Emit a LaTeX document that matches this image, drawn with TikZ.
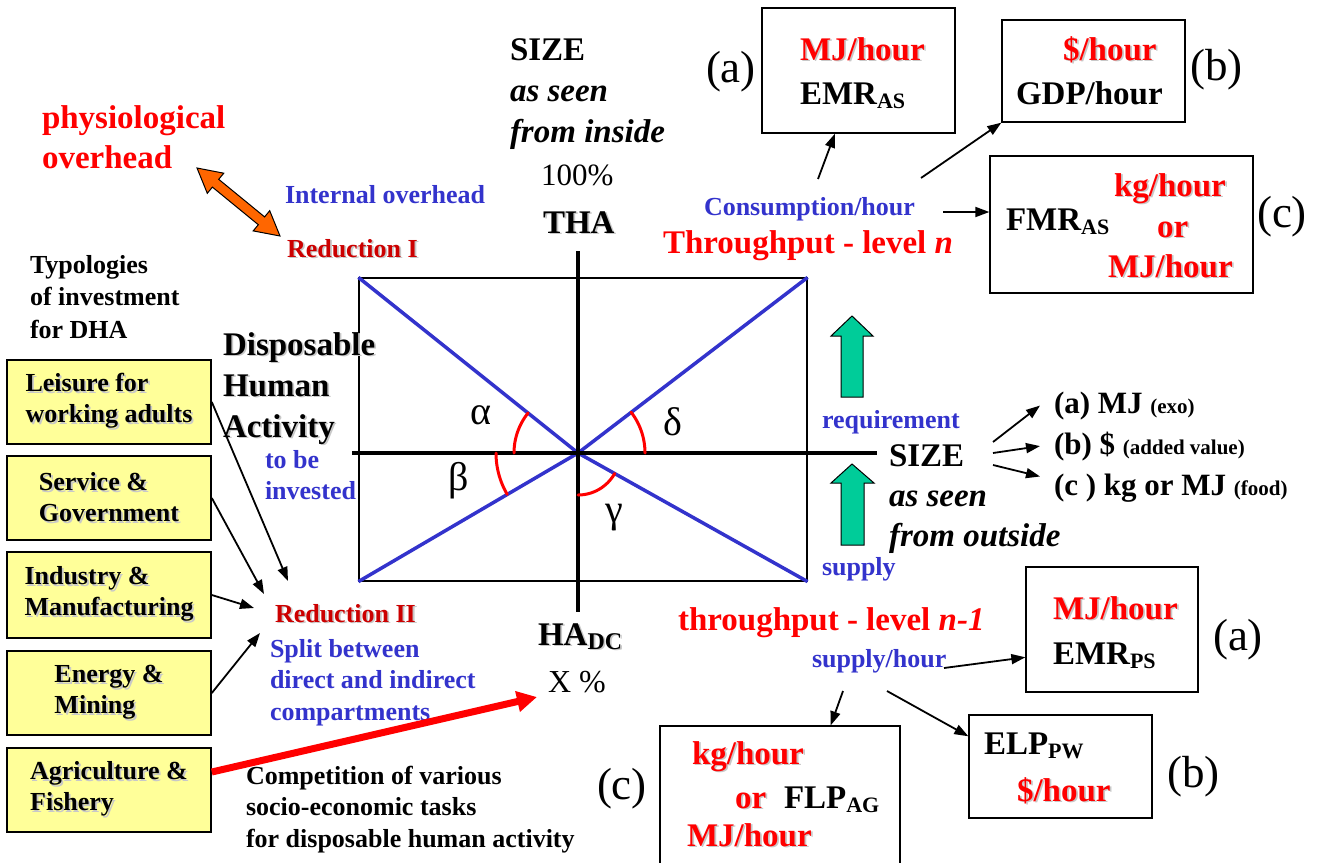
\documentclass[tikz,border=0pt]{standalone}
\usepackage{fontspec}
\setmainfont{Liberation Serif}
\usetikzlibrary{arrows.meta,calc}
\definecolor{tblue}{HTML}{3333CC}
\definecolor{tred}{HTML}{FF0000}
\definecolor{dred}{HTML}{CC0000}
\definecolor{byellow}{HTML}{FFFF99}
\definecolor{tgreen}{HTML}{00CC99}
\definecolor{torange}{HTML}{FF6600}
\definecolor{shadowgray}{HTML}{C8C8C8}
\newcommand{\myfs}[2]{\fontsize{#1}{#2}\selectfont}
\newcommand{\sbs}[2][22]{\raisebox{-4pt}{\myfs{#1}{#1}#2}}
\newcommand{\shd}[1]{\leavevmode\rlap{\kern1.8pt\raisebox{-1.8pt}{\color{shadowgray}#1}}#1}
\begin{document}
\begin{tikzpicture}[x=1pt,y=-1pt,
  lbl/.style={inner sep=0pt, outer sep=0pt},
  bt/.style={lbl, font=\myfs{26}{31.5}\bfseries},
  bT/.style={lbl, font=\myfs{33}{41}\bfseries},
  rt/.style={lbl, font=\myfs{45}{50}},
  greek/.style={lbl, font=\myfs{40}{44}},
  ybox/.style={draw, line width=1.6pt, fill=byellow, minimum width=204pt, minimum height=84pt, inner sep=0pt, align=left, font=\myfs{26}{31}\bfseries},
  rbox/.style={draw, line width=1.3pt, inner sep=0pt},
  conn/.style={line width=1.8pt, -{Triangle[length=14pt,width=10pt]}},
  axis/.style={line width=4pt},
  diag/.style={line width=3.5pt, draw=tblue},
  arcr/.style={line width=3pt, draw=tred, line cap=round},
  garrow/.style={fill=tgreen, draw=black, line width=1pt},
]
\useasboundingbox (0,0) rectangle (1337,862);
\fill[white] (0,0) rectangle (1337,862);

% ---------- central frame ----------
\node[rbox, line width=1.2pt, minimum width=448pt, minimum height=303pt] (frame) at (583,429.5) {};
\coordinate (c0) at (578,453);
\draw[diag] (frame.north west) -- (c0) -- (frame.south east);
\draw[diag] (frame.south west) -- (c0) -- (frame.north east);
\coordinate (vtop) at (578,251);
\coordinate (vbot) at (578,612);
\coordinate (hleft) at (352,453);
\coordinate (hright) at (877,453);
\draw[axis] (vtop) -- (vbot);
\draw[axis] (hleft) -- (hright);

\draw[arcr] plot[domain=180:218.8, samples=20] ({578+64*cos(\x)},{453+64*sin(\x)});
\draw[arcr] plot[domain=149.7:180, samples=20] ({578+82*cos(\x)},{453+82*sin(\x)});
\draw[arcr] plot[domain=-37.5:0, samples=20] ({578+67*cos(\x)},{453+67*sin(\x)});
\draw[arcr] plot[domain=29.2:90, samples=20] ({578+42*cos(\x)},{453+42*sin(\x)});

\node[greek, anchor=base west] (alpha) at (470,424) {α};
\node[greek, anchor=base west] (delta) at (663,435) {δ};
\node[greek, anchor=base west] (beta) at (448,490) {β};
\node[greek, anchor=base west] (gamma) at (605,522) {γ};

% ---------- top centre ----------
\node[bT, anchor=north west, align=left] (sizein) at (510,34) {\rule{0pt}{26pt}SIZE\\\textit{as seen}\\\textit{from inside}};
\node[lbl, font=\myfs{31}{31}, anchor=base west] (pct100) at (541,185) {100\%};
\node[bT, anchor=base west] (tha) at (543,233) {\shd{THA}};

% ---------- top left ----------
\node[bT, text=tred, anchor=north west, align=left, font=\myfs{33}{40}\bfseries] (phys) at (42,102) {\rule{0pt}{26pt}physiological\\overhead};
\draw[fill=torange, draw=black, line width=1pt]
  (197,168) -- (207.3,193.3) -- (212.4,187.1) -- (258.3,224.7) -- (253.2,230.9) -- (280,236)
  -- (269.7,210.7) -- (264.6,216.9) -- (218.7,179.3) -- (223.8,173.2) -- cycle;
\node[bt, text=tblue, anchor=base west] (intover) at (285,203) {Internal overhead};
\node[bt, text=dred, anchor=base west] (red1) at (287,257) {\shd{Reduction I}};
\node[bt, anchor=north west, align=left, font=\myfs{26}{32.5}\bfseries] (typ) at (30,253) {\rule{0pt}{20pt}Typologies\\of investment\\for DHA};
\node[bT, anchor=north west, align=left] (dha) at (223,329) {\rule{0pt}{26pt}\shd{Disposable}\\\shd{Human}\\\shd{Activity}};
\node[bt, text=tblue, anchor=north west, align=left] (tobe) at (265,448) {\rule{0pt}{20pt}to be\\invested};

% ---------- yellow boxes ----------
\node[ybox] (b1) at (109,402) {\shd{Leisure for}\\\shd{working adults}};
\node[ybox] (b2) at (109,498) {\shd{Service \&}\\\shd{Government}};
\node[ybox, minimum height=86pt] (b3) at (109,595) {\shd{Industry \&}\\\shd{Manufacturing}};
\node[ybox] (b4) at (109,693) {\shd{Energy \&}\\\shd{Mining}};
\node[ybox] (b5) at (109,790) {\shd{Agriculture \&}\\\shd{Fishery}};

\node[bt, text=dred, anchor=base west] (red2) at (275,622) {\shd{Reduction II}};
\node[bt, text=tblue, anchor=north west, align=left] (split) at (270,637) {\rule{0pt}{20pt}Split between\\direct and indirect\\compartments};
\node[bt, anchor=north west, align=left] (comp) at (246,764) {\rule{0pt}{20pt}Competition of various\\socio-economic tasks\\for disposable human activity};

\coordinate (r2a) at (288,581);
\coordinate (r2b) at (264,594);
\coordinate (r2c) at (254,608);
\coordinate (r2d) at (260,633);
\draw[conn] (b1.east) -- (r2a);
\draw[conn] (b2.east) -- (r2b);
\draw[conn] (b3.east) -- (r2c);
\draw[conn] (b4.east) -- (r2d);

\node[bT, anchor=base west] (hadc) at (538,645) {\shd{HA\sbs[24]{DC}}};
\node[lbl, font=\myfs{32}{32}, anchor=base west] (xpct) at (548,692) {X \%};
\coordinate (r3) at (537,697);
\draw[line width=7pt, draw=tred, -{Triangle[length=20pt,width=20pt]}] ([yshift=18pt]b5.east) -- (r3);

% ---------- top right ----------
\node[rt, anchor=base west] (labA) at (706,82) {(a)};
\node[rbox, minimum width=193pt, minimum height=125pt] (boxa) at (858.5,70.5) {};
\node[bT, anchor=north west, align=left, font=\myfs{33}{44}\bfseries] (boxatxt) at (800,34) {\rule{0pt}{26pt}\textcolor{tred}{\shd{MJ/hour}}\\EMR\sbs{AS}};

\node[rbox, minimum width=183pt, minimum height=102pt] (boxb) at (1093.5,71) {};
\node[bT, text=tred, anchor=base west] (boxbt1) at (1063,60) {\shd{\$/hour}};
\node[bT, anchor=base west] (boxbt2) at (1016,104) {GDP/hour};
\node[rt, anchor=base west] (labB) at (1190,80) {(b)};

\node[rbox, minimum width=263pt, minimum height=137pt] (boxc) at (1121.5,224.5) {};
\node[bT, anchor=base west] (fmr) at (1006,230) {FMR\sbs{AS}};
\node[bT, text=tred, anchor=base west] (boxct1) at (1114,196) {\shd{kg/hour}};
\node[bT, text=tred, anchor=base west] (boxct2) at (1157,237) {\shd{or}};
\node[bT, text=tred, anchor=base west] (boxct3) at (1108,277) {\shd{MJ/hour}};
\node[rt, anchor=base west] (labC) at (1257,227) {(c)};

\node[bt, text=tblue, anchor=base west] (cons) at (704,215) {Consumption/hour};
\node[bT, text=tred, anchor=base west] (thrn) at (663,253) {Throughput - level \textit{n}};
\coordinate (ca) at (818,179);
\coordinate (cb) at (921,178);
\coordinate (cc) at (943,212);
\draw[conn] (ca) -- (boxa);
\draw[conn] (cb) -- (boxb.south west);
\draw[conn] (cc) -- (cc -| boxc.west);

% ---------- right middle ----------
\draw[garrow] (852,316) -- (873,336) -- (863,336) -- (863,397) -- (841,397) -- (841,336) -- (831,336) -- cycle;
\draw[garrow] (852,464) -- (874,483) -- (864,483) -- (864,545) -- (841,545) -- (841,483) -- (831,483) -- cycle;
\node[bt, text=tblue, anchor=base west] (req) at (822,428) {requirement};
\node[bt, text=tblue, anchor=base west] (supply) at (822,575) {supply};
\node[bT, anchor=north west, align=left, font=\myfs{33}{40}\bfseries] (sizeout) at (889,440) {\rule{0pt}{26pt}SIZE\\\textit{as seen}\\\textit{from outside}};

\node[lbl, font=\myfs{31}{31}\bfseries, anchor=base west] (sa) at (1054,413) {(a) MJ {\myfs{21}{21}(exo)}};
\node[lbl, font=\myfs{31}{31}\bfseries, anchor=base west] (sb) at (1054,454) {(b) \$ {\myfs{21}{21}(added value)}};
\node[lbl, font=\myfs{31}{31}\bfseries, anchor=base west] (sc) at (1054,495) {(c ) kg or MJ {\myfs{21}{21}(food)}};
\coordinate (z1) at (993,442);
\coordinate (z2) at (993,453);
\coordinate (z3) at (993,465);
\draw[conn] (z1) -- ([xshift=-14pt]sa.west);
\draw[conn] (z2) -- ([xshift=-14pt]sb.west);
\draw[conn] (z3) -- ([xshift=-14pt,yshift=-3pt]sc.north west);

% ---------- bottom right ----------
\node[bT, text=tred, anchor=base west] (thrn1) at (678,630) {throughput - level \textit{n-1}};
\node[bt, text=tblue, anchor=base west] (suph) at (812,667) {supply/hour};

\node[rbox, minimum width=172pt, minimum height=125pt] (boxpsa) at (1112,629.5) {};
\node[bT, text=tred, anchor=base west] (psat1) at (1053,619) {\shd{MJ/hour}};
\node[bT, anchor=base west] (psat2) at (1053,664) {EMR\sbs{PS}};
\node[rt, anchor=base west] (labA2) at (1213,650) {(a)};

\node[rbox, minimum width=183pt, minimum height=103pt] (boxelp) at (1060.5,766.5) {};
\node[bT, anchor=base west] (elpt1) at (984,754) {ELP\sbs{PW}};
\node[bT, text=tred, anchor=base west] (elpt2) at (1017,801) {\shd{\$/hour}};
\node[rt, anchor=base west] (labB2) at (1167,787) {(b)};

\node[rbox, minimum width=240pt, minimum height=174pt] (boxflp) at (780,813) {};
\node[bT, text=tred, anchor=base west] (flpt1) at (692,764) {\shd{kg/hour}};
\node[bT, text=tred, anchor=base west] (flpt2) at (735,808) {\shd{or}};
\node[bT, anchor=base west] (flpt3) at (784,808) {FLP\sbs{AG}};
\node[bT, text=tred, anchor=base west] (flpt4) at (687,846) {\shd{MJ/hour}};
\node[rt, anchor=base west] (labC2) at (597,799) {(c)};

\coordinate (s1) at (944,668);
\coordinate (s2) at (843,691);
\coordinate (s3) at (887,691);
\draw[conn] (s1) -- ($(boxpsa.south west)!0.28!(boxpsa.north west)$);
\draw[conn] (s2) -- ($(boxflp.north west)!0.71!(boxflp.north east)$);
\draw[conn] (s3) -- ($(boxelp.north west)!0.21!(boxelp.south west)$);
\end{tikzpicture}
\end{document}
